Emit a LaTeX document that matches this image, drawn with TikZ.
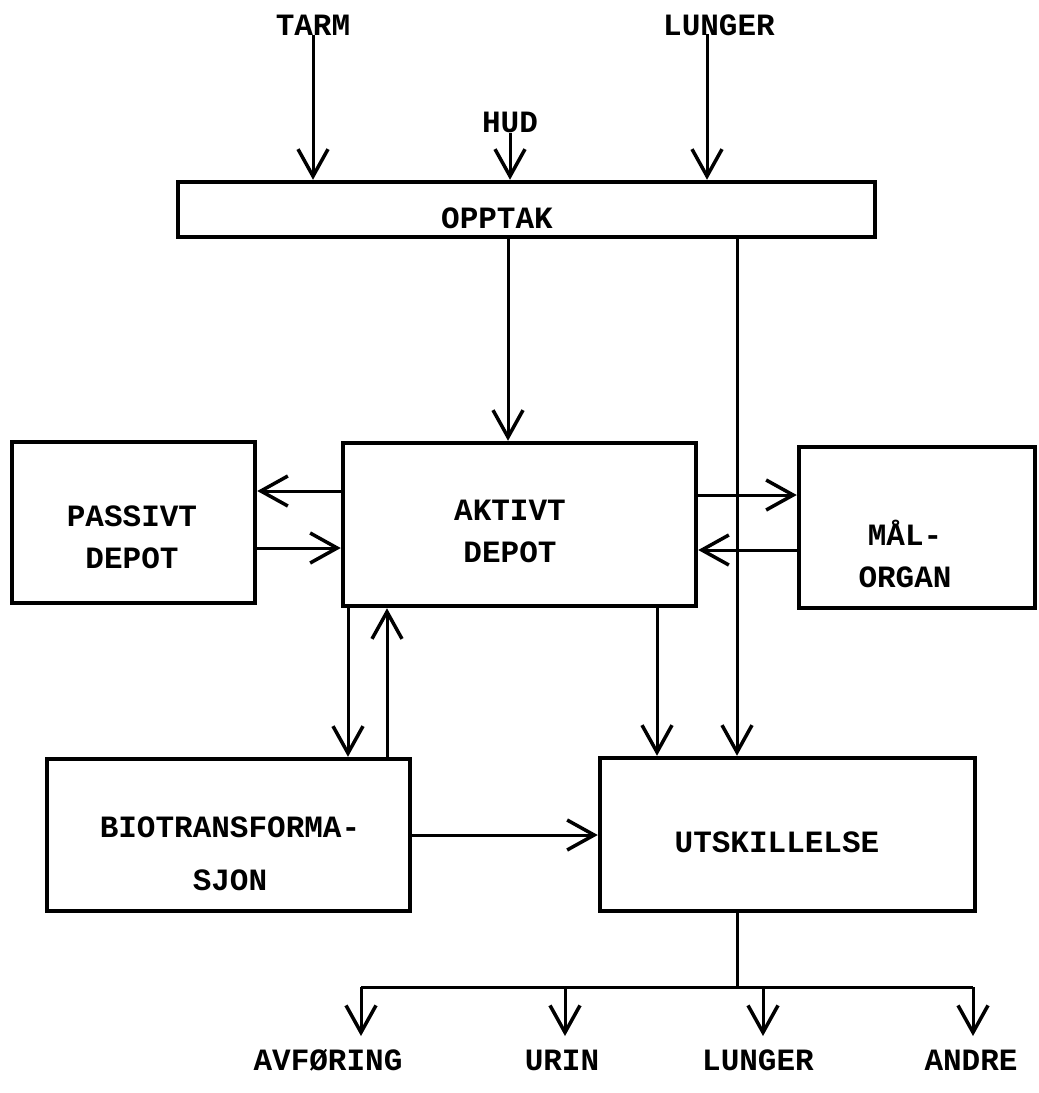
\documentclass[tikz,border=0pt]{standalone}
\usepackage{fontspec}
\setmonofont{Liberation Mono}
\usetikzlibrary{arrows.meta}
\begin{document}
\begin{tikzpicture}[x=1pt,y=-1pt,
  box/.style={draw, line width=4.5pt, inner sep=0pt},
  lbl/.style={font=\fontsize{31}{42}\selectfont\ttfamily\bfseries, inner sep=0pt, align=center},
  arr/.style={line width=3pt, -{Straight Barb[length=27pt,width=30pt,line width=3.5pt]}},
  ln/.style={line width=3pt}]
\useasboundingbox (0,0) rectangle (1039,1093);

% boxes
\node[box, minimum width=697pt, minimum height=55pt] (opptak) at (526.5,209.5) {};
\node[box, minimum width=243pt, minimum height=161pt] (passivt) at (133.5,522.5) {};
\node[box, minimum width=353pt, minimum height=163pt] (aktivt) at (519.5,524.5) {};
\node[box, minimum width=236pt, minimum height=161pt] (mal) at (917,527.5) {};
\node[box, minimum width=363pt, minimum height=152pt] (bio) at (228.5,835) {};
\node[box, minimum width=375pt, minimum height=153pt] (utsk) at (787.5,834.5) {};

% box texts
\node[lbl] (opptakT) at (497,218) {OPPTAK};
\node[lbl] (passivtT) at (132,537.5) {PASSIVT\\DEPOT};
\node[lbl] (aktivtT) at (510,531) {AKTIVT\\DEPOT};
\node[lbl] (malT) at (905,553.5) {MÅL-\\ORGAN};
\node[lbl] (bioT) at (230,853.5) {BIOTRANSFORMA-\\[11pt]SJON};
\node[lbl] (utskT) at (777,842) {UTSKILLELSE};

% input labels
\node[lbl] (tarm) at (313,25) {TARM};
\node[lbl] (hud) at (510,122) {HUD};
\node[lbl] (lungerT) at (719,25) {LUNGER};

% output labels
\node[lbl] (avf) at (328,1060) {AVFØRING};
\node[lbl] (urin) at (562,1060) {URIN};
\node[lbl] (lungerB) at (758,1060) {LUNGER};
\node[lbl] (andre) at (971,1060) {ANDRE};

% helper coordinates
\coordinate (pL) at (707,34);
\coordinate (xA) at (508,0);
\coordinate (xU) at (737,0);
\coordinate (xB1) at (348,0);
\coordinate (xB2) at (387,0);
\coordinate (xK) at (657,0);
\coordinate (yP1) at (0,491);
\coordinate (yP2) at (0,548);
\coordinate (yM1) at (0,495);
\coordinate (yM2) at (0,550);
\coordinate (br) at (737,987);
\coordinate (b1) at (361,987);
\coordinate (b2) at (565,987);
\coordinate (b3) at (763,987);
\coordinate (b4) at (973,987);
\coordinate (t1) at (361,1036);
\coordinate (t2) at (565,1036);
\coordinate (t3) at (763,1036);
\coordinate (t4) at (973,1036);

% inputs
\draw[arr] (tarm.south) -- (tarm.south |- opptak.north);
\draw[arr] (hud.south) -- (hud.south |- opptak.north);
\draw[arr] (pL) -- (pL |- opptak.north);

% main flows
\draw[arr] (opptak.south -| xA) -- (aktivt.north -| xA);
\draw[arr] (opptak.south -| xU) -- (utsk.north -| xU);
\draw[arr] (aktivt.west |- yP1) -- (passivt.east |- yP1);
\draw[arr] (passivt.east |- yP2) -- (aktivt.west |- yP2);
\draw[arr] (aktivt.east |- yM1) -- (mal.west |- yM1);
\draw[arr] (mal.west |- yM2) -- (aktivt.east |- yM2);
\draw[arr] (aktivt.south -| xB1) -- (bio.north -| xB1);
\draw[arr] (bio.north -| xB2) -- (aktivt.south -| xB2);
\draw[arr] (aktivt.south -| xK) -- (utsk.north -| xK);
\draw[arr] (bio.east) -- (utsk.west |- bio.east);

% outputs
\draw[ln] (utsk.south -| br) -- (br);
\draw[ln] (b1) -- (b4);
\draw[arr] (b1) -- (t1);
\draw[arr] (b2) -- (t2);
\draw[arr] (b3) -- (t3);
\draw[arr] (b4) -- (t4);
\end{tikzpicture}
\end{document}
